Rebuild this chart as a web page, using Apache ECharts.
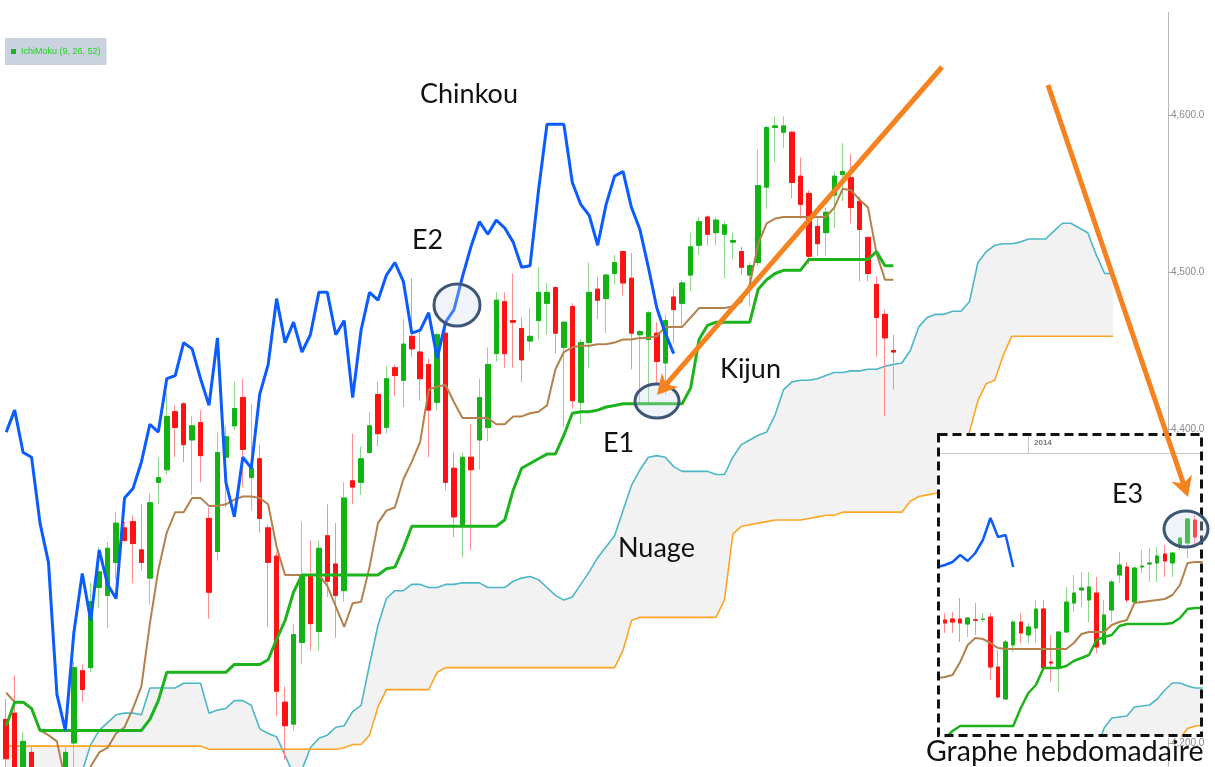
<!DOCTYPE html>
<html>
<head>
<meta charset="utf-8">
<title>Ichimoku</title>
<script src="https://cdn.jsdelivr.net/npm/echarts@6/dist/echarts.min.js"></script>
<style>
  html, body { margin: 0; padding: 0; background: #fff; }
  #chart { width: 1215px; height: 767px; }
</style>
</head>
<body>
<div id="chart"></div>
<script>
// daily chart, one slot per session (26 slots of cloud projected forward)
const slots = 138;

// [open, close, low, high]
const candles = [
  [4215, 4190, 4180, 4228], [4219, 4176, 4165, 4243], [4170, 4201, 4160, 4207], [4194, 4170, 4160, 4198],
  [4175, 4160, 4150, 4182], [4160, 4172, 4150, 4178], [4170, 4150, 4140, 4175], [4165, 4194, 4155, 4198],
  [4200, 4248, 4175, 4252], [4246, 4234, 4226, 4250], [4248, 4290, 4245, 4302], [4299, 4309, 4286, 4325],
  [4294, 4324, 4273, 4328], [4315, 4340, 4304, 4347], [4337, 4329, 4328, 4341], [4341, 4327, 4302, 4345],
  [4323, 4315, 4310, 4352], [4305, 4353, 4288, 4359], [4366, 4369, 4352, 4382], [4374, 4408, 4371, 4423],
  [4411, 4401, 4382, 4415], [4416, 4390, 4379, 4417], [4393, 4402, 4358, 4408], [4404, 4383, 4366, 4412],
  [4343, 4296, 4279, 4350], [4322, 4385, 4316, 4398], [4382, 4395, 4350, 4402], [4402, 4413, 4399, 4430],
  [4420, 4387, 4363, 4432], [4369, 4375, 4348, 4416], [4381, 4343, 4334, 4390], [4337, 4315, 4274, 4339],
  [4319, 4233, 4217, 4322], [4226, 4211, 4189, 4236], [4212, 4269, 4208, 4276], [4264, 4306, 4250, 4341],
  [4307, 4276, 4259, 4329], [4271, 4324, 4259, 4329], [4332, 4303, 4293, 4352], [4314, 4294, 4267, 4340],
  [4297, 4356, 4290, 4366], [4367, 4363, 4352, 4397], [4366, 4381, 4358, 4389], [4385, 4402, 4384, 4411],
  [4422, 4397, 4389, 4430], [4401, 4432, 4397, 4440], [4439, 4434, 4421, 4441], [4431, 4454, 4414, 4470],
  [4459, 4451, 4446, 4496], [4449, 4432, 4418, 4464], [4441, 4412, 4382, 4445], [4417, 4460, 4412, 4461],
  [4461, 4366, 4361, 4465], [4375, 4344, 4331, 4385], [4338, 4382, 4318, 4385], [4382, 4374, 4323, 4403],
  [4393, 4420, 4374, 4432], [4401, 4441, 4392, 4452], [4448, 4482, 4443, 4487], [4481, 4448, 4439, 4487],
  [4469, 4468, 4439, 4499], [4464, 4444, 4430, 4471], [4456, 4459, 4450, 4477], [4469, 4487, 4457, 4503],
  [4480, 4487, 4460, 4493], [4490, 4461, 4448, 4491], [4452, 4468, 4401, 4469], [4478, 4418, 4413, 4480],
  [4417, 4455, 4403, 4457], [4455, 4487, 4439, 4506], [4489, 4482, 4470, 4497], [4483, 4498, 4461, 4499],
  [4499, 4506, 4492, 4511], [4513, 4493, 4485, 4513], [4496, 4461, 4438, 4512], [4460, 4462, 4415, 4463],
  [4457, 4474, 4417, 4475], [4461, 4443, 4428, 4468], [4442, 4469, 4422, 4473], [4484, 4476, 4455, 4489],
  [4480, 4493, 4465, 4495], [4498, 4516, 4488, 4525], [4517, 4532, 4511, 4535], [4535, 4524, 4517, 4536],
  [4525, 4533, 4517, 4535], [4524, 4530, 4496, 4532], [4519, 4520, 4508, 4525], [4513, 4503, 4498, 4516],
  [4498, 4504, 4478, 4506], [4506, 4555, 4504, 4578], [4554, 4592, 4540, 4593], [4592, 4593, 4570, 4599],
  [4589, 4593, 4579, 4599], [4589, 4557, 4547, 4590], [4561, 4543, 4534, 4573], [4550, 4510, 4505, 4552],
  [4529, 4518, 4510, 4534], [4525, 4538, 4510, 4541], [4549, 4561, 4528, 4564], [4562, 4564, 4545, 4582],
  [4560, 4541, 4531, 4575], [4545, 4527, 4494, 4548], [4522, 4499, 4494, 4522], [4492, 4471, 4446, 4497],
  [4473, 4458, 4408, 4476], [4450, 4449, 4425, 4460]
];

const chinkou = [
  4398, 4412, 4385, 4382, 4340, 4315, 4231, 4208, 4270, 4308,
  4278, 4323, 4301, 4292, 4356, 4362, 4379, 4403, 4398, 4432,
  4434, 4455, 4451, 4432, 4415, 4458, 4366, 4344, 4382, 4375,
  4422, 4441, 4483, 4455, 4468, 4449, 4460, 4487, 4487, 4460,
  4469, 4420, 4463, 4487, 4482, 4498, 4506, 4494, 4461, 4463,
  4474, 4445, 4468, 4476, 4497, 4516, 4532, 4524, 4533, 4528,
  4519, 4503, 4504, 4552, 4594, 4594, 4594, 4557, 4543, 4536,
  4517, 4543, 4561, 4564, 4541, 4527, 4503, 4477, 4461, 4448
];

const tenkan = [
  4232, 4226, 4226, 4222, 4208, 4205, 4201, 4176, 4165, 4170,
  4185, 4194, 4197, 4206, 4210, 4222, 4236, 4276, 4310, 4334,
  4347, 4347, 4356, 4356, 4351, 4351, 4352, 4355, 4357, 4357,
  4356, 4352, 4325, 4307, 4307, 4307, 4307, 4307, 4300, 4287,
  4274, 4289, 4290, 4312, 4340, 4348, 4350, 4368, 4379, 4392,
  4425, 4427, 4428, 4417, 4407, 4407, 4407, 4407, 4403, 4403,
  4408, 4408, 4410, 4411, 4415, 4438, 4449, 4452, 4453, 4453,
  4454, 4454, 4455, 4457, 4457, 4458, 4458, 4459, 4465, 4465,
  4465, 4471, 4477, 4477, 4477, 4477, 4478, 4481, 4492, 4518,
  4531, 4534, 4535, 4535, 4535, 4535, 4535, 4535, 4541, 4553,
  4552, 4546, 4541, 4512, 4495, 4495
];

const kijun = [
  4211, 4226, 4226, 4222, 4208, 4208, 4208, 4208, 4208, 4208,
  4208, 4208, 4208, 4208, 4208, 4208, 4208, 4215, 4227, 4245,
  4245, 4245, 4245, 4245, 4245, 4245, 4245, 4250, 4250, 4250,
  4250, 4253, 4266, 4278, 4296, 4307, 4307, 4307, 4307, 4307,
  4307, 4307, 4307, 4307, 4307, 4311, 4312, 4324, 4338, 4338,
  4338, 4338, 4338, 4338, 4338, 4338, 4338, 4338, 4338, 4342,
  4361, 4375, 4378, 4381, 4384, 4384, 4396, 4410, 4411, 4411,
  4412, 4414, 4415, 4416, 4416, 4416, 4416, 4416, 4416, 4416,
  4416, 4426, 4457, 4466, 4468, 4468, 4468, 4468, 4468, 4489,
  4495, 4499, 4501, 4501, 4501, 4508, 4508, 4508, 4508, 4508,
  4508, 4508, 4508, 4513, 4504, 4504
];

const senkouA = [
  4165, 4165, 4163, 4160, 4160, 4158, 4158, 4160, 4165, 4182,
  4199, 4208, 4213, 4218, 4219, 4219, 4218, 4235, 4235, 4235,
  4235, 4238, 4238, 4238, 4219, 4221, 4222, 4227, 4227, 4224,
  4209, 4206, 4204, 4192, 4180, 4183, 4197, 4203, 4205, 4210,
  4211, 4220, 4224, 4250, 4275, 4292, 4297, 4297, 4301, 4301,
  4299, 4299, 4301, 4301, 4302, 4302, 4302, 4299, 4299, 4299,
  4303, 4305, 4306, 4304, 4299, 4294, 4291, 4293, 4301, 4309,
  4318, 4325, 4332, 4348, 4364, 4374, 4382, 4383, 4382, 4376,
  4373, 4373, 4373, 4373, 4371, 4371, 4382, 4390, 4393, 4396,
  4398, 4409, 4425, 4430, 4431, 4431, 4432, 4434, 4436, 4436,
  4437, 4437, 4438, 4438, 4440, 4441, 4442, 4450, 4465, 4471,
  4473, 4473, 4475, 4475, 4481, 4506, 4513, 4517, 4518, 4518,
  4519, 4521, 4521, 4521, 4526, 4531, 4531, 4528, 4525, 4511,
  4499, 4499
];

const senkouB = [
  4198, 4198, 4198, 4198, 4198, 4198, 4198, 4198, 4198, 4198,
  4198, 4198, 4198, 4198, 4198, 4198, 4198, 4198, 4198, 4198,
  4198, 4198, 4198, 4198, 4196, 4196, 4196, 4196, 4196, 4196,
  4196, 4196, 4196, 4196, 4196, 4196, 4196, 4196, 4196, 4196,
  4197, 4199, 4199, 4205, 4223, 4234, 4234, 4234, 4234, 4234,
  4234, 4245, 4248, 4248, 4248, 4248, 4248, 4248, 4248, 4248,
  4248, 4248, 4248, 4248, 4248, 4248, 4248, 4248, 4248, 4248,
  4248, 4248, 4248, 4259, 4278, 4280, 4280, 4280, 4280, 4280,
  4280, 4280, 4280, 4280, 4280, 4291, 4333, 4338, 4339, 4340,
  4341, 4342, 4342, 4342, 4342, 4343, 4344, 4345, 4345, 4347,
  4347, 4347, 4347, 4347, 4347, 4347, 4347, 4354, 4357, 4358,
  4359, 4362, 4369, 4382, 4398, 4418, 4429, 4431, 4447, 4459,
  4459, 4459, 4459, 4459, 4459, 4459, 4459, 4459, 4459, 4459,
  4459, 4459
];

// weekly inset (slot 0 holds only the lagging line)
const weekSlots = 36;
const weekCandles = [
  [4114, 4102, 4062, 4142], [4118, 4106, 4062, 4146], [4118, 4102, 4026, 4202], [4098, 4122, 4046, 4126],
  [4115, 4113, 4054, 4182], [4116, 4118, 4106, 4142], [4126, 3926, 3874, 4142], [3926, 3806, 3800, 3994],
  [3798, 4026, 3794, 4034], [4014, 4106, 3986, 4114], [4106, 4062, 4022, 4142], [4054, 4086, 4022, 4102],
  [4082, 4158, 4022, 4194], [4158, 3922, 3914, 4194], [3946, 3942, 3866, 4054], [3926, 4066, 3826, 4070],
  [4066, 4186, 4062, 4246], [4182, 4222, 4146, 4294], [4234, 4242, 4166, 4306], [4194, 4246, 4106, 4306],
  [4222, 4006, 3982, 4286], [4018, 4134, 4010, 4194], [4154, 4266, 4106, 4274], [4294, 4334, 4262, 4386],
  [4326, 4194, 4182, 4346], [4186, 4322, 4182, 4326], [4326, 4330, 4302, 4394], [4338, 4342, 4266, 4402],
  [4342, 4370, 4266, 4406], [4378, 4350, 4286, 4414], [4342, 4382, 4286, 4386], [4406, 4442, 4394, 4442],
  [4422, 4518, 4362, 4522], [4514, 4446, 4414, 4534]
];
const weekChinkou = [4326, 4334, 4346, 4374, 4350, 4382, 4434, 4522, 4446, 4454, 4326];
const weekTenkan = [
  3882, 3886, 3894, 3946, 4014, 4042, 4038, 4022, 4002, 3998,
  3998, 3998, 3998, 3998, 3998, 3998, 3998, 3998, 4022, 4058,
  4066, 4066, 4066, 4094, 4106, 4114, 4182, 4186, 4190, 4194,
  4198, 4214, 4254, 4342, 4346, 4346
];
const weekKijun = [
  3620, 3640, 3670, 3690, 3690, 3690, 3690, 3690, 3690, 3690,
  3690, 3762, 3822, 3854, 3922, 3922, 3922, 3930, 3950, 3962,
  3974, 4034, 4046, 4054, 4090, 4098, 4098, 4098, 4098, 4098,
  4098, 4102, 4122, 4158, 4162, 4162
];
const weekSenkouA = [
  3600, 3600, 3600, 3600, 3600, 3600, 3600, 3600, 3600, 3600,
  3600, 3600, 3600, 3600, 3600, 3600, 3600, 3600, 3600, 3600,
  3600, 3600, 3682, 3722, 3726, 3730, 3766, 3770, 3774, 3798,
  3834, 3862, 3862, 3850, 3842, 3842
];
const weekSenkouB = [
  3600, 3600, 3600, 3600, 3600, 3600, 3600, 3600, 3600, 3600,
  3600, 3600, 3600, 3600, 3600, 3600, 3600, 3600, 3600, 3600,
  3600, 3600, 3600, 3600, 3600, 3600, 3600, 3600, 3600, 3600,
  3600, 3600, 3640, 3680, 3690, 3692
];

const UP = '#12b312', DOWN = '#ff1212';
const UP_WICK = '#8ed88e', DOWN_WICK = '#ff8f8f';
const ORANGE = '#f5821f';
const FONT = 'Lato';

const chart = echarts.init(document.getElementById('chart'));

// cloud = invisible base + stacked band between the two spans
function cloudSeries(a, b, stack, axis, z) {
  const base = a.map((v, i) => Math.min(v, b[i]));
  const band = a.map((v, i) => Math.abs(v - b[i]));
  const common = { type: 'line', stack: stack, symbol: 'none', silent: true,
    xAxisIndex: axis, yAxisIndex: axis, z: z, lineStyle: { width: 0, opacity: 0 } };
  return [
    Object.assign({ name: stack + '-base', data: base }, common),
    Object.assign({ name: stack + '-band', data: band, areaStyle: { color: '#f2f2f2', opacity: 1 } }, common)
  ];
}

function candleSeries(data, axis, z, width) {
  const bodies = data.map(d => (d === '-' ? '-' : [d[0], d[1], Math.min(d[0], d[1]), Math.max(d[0], d[1])]));
  return [
    { type: 'candlestick', xAxisIndex: axis, yAxisIndex: axis, z: z, barWidth: width, data: data, silent: true,
      itemStyle: { color: UP_WICK, color0: DOWN_WICK, borderColor: UP_WICK, borderColor0: DOWN_WICK, borderWidth: 1 } },
    { type: 'candlestick', xAxisIndex: axis, yAxisIndex: axis, z: z + 1, barWidth: width, data: bodies, silent: true,
      itemStyle: { color: UP, color0: DOWN, borderColor: UP, borderColor0: DOWN, borderWidth: 1 } }
  ];
}

function line(name, data, color, width, axis, z) {
  return { name: name, type: 'line', data: data, symbol: 'none', xAxisIndex: axis, yAxisIndex: axis, z: z,
    silent: true, lineStyle: { color: color, width: width }, itemStyle: { color: color } };
}

function label(text, x, y, size) {
  return { type: 'text', x: x, y: y, z: 60,
    style: { text: text, fill: '#111', font: size + 'px ' + FONT, textVerticalAlign: 'middle' } };
}

function ring(cx, cy, rx, ry) {
  return { type: 'ellipse', z: 55, shape: { cx: cx, cy: cy, rx: rx, ry: ry },
    style: { fill: 'rgba(205,218,240,0.3)', stroke: '#3e5676', lineWidth: 3 } };
}

function arrow(x1, y1, x2, y2) {
  const len = Math.hypot(x2 - x1, y2 - y1);
  const ux = (x2 - x1) / len, uy = (y2 - y1) / len;
  const bx = x2 - ux * 20, by = y2 - uy * 20;
  return [
    { type: 'line', z: 58, shape: { x1: x1, y1: y1, x2: bx + ux * 6, y2: by + uy * 6 },
      style: { stroke: ORANGE, lineWidth: 5 } },
    { type: 'polygon', z: 58,
      shape: { points: [[x2, y2], [bx - uy * 11, by + ux * 11], [bx + ux * 6, by + uy * 6], [bx + uy * 11, by - ux * 11]] },
      style: { fill: ORANGE } }
  ];
}

const fmt = v => v.toLocaleString('en-US', { minimumFractionDigits: 1, maximumFractionDigits: 1 });

const option = {
  animation: false,
  backgroundColor: '#fff',
  legend: {
    left: 5, top: 38, padding: [9, 6], backgroundColor: '#c9d2de', selectedMode: false,
    itemWidth: 5, itemHeight: 5, icon: 'rect',
    textStyle: { color: '#1fd21f', fontSize: 9, fontFamily: 'Liberation Sans' },
    data: ['IchiMoku (9, 26, 52)']
  },
  grid: [
    { left: 2, top: 0, width: 1166, height: 767 },
    { left: 933.6, top: 433, width: 272.9, height: 303 }
  ],
  xAxis: [
    { type: 'category', gridIndex: 0, show: false, data: Array.from({ length: slots }, (_, i) => i) },
    { type: 'category', gridIndex: 1, show: false, data: Array.from({ length: weekSlots }, (_, i) => i) }
  ],
  yAxis: [
    { type: 'value', gridIndex: 0, position: 'right', min: 4184.7, max: 4673.2, splitNumber: 5,
      splitLine: { show: false }, axisLine: { show: false },
      axisTick: { show: true, length: 3, lineStyle: { color: '#aaa' } },
      axisLabel: { formatter: fmt, color: '#8a8a8a', fontSize: 10, margin: 3, fontFamily: 'Liberation Sans',
        showMinLabel: false, showMaxLabel: false } },
    { type: 'value', gridIndex: 1, show: false, min: 3650, max: 4862 }
  ],
  series: [
    ...cloudSeries(senkouA, senkouB, 'cloud', 0, 1),
    line('Senkou A', senkouA, '#4cb6c9', 1.6, 0, 2),
    line('Senkou B', senkouB, '#ffa424', 1.6, 0, 2),
    ...candleSeries(candles, 0, 3, 5),
    line('Tenkan', tenkan, '#b3824c', 2, 0, 5),
    line('IchiMoku (9, 26, 52)', kijun, '#1cb31c', 3, 0, 5),
    line('Chinkou', chinkou, '#0b5cff', 3, 0, 6),

    ...cloudSeries(weekSenkouA, weekSenkouB, 'wcloud', 1, 20),
    line('wSenkou A', weekSenkouA, '#4cb6c9', 1.6, 1, 21),
    line('wSenkou B', weekSenkouB, '#ffa424', 1.6, 1, 21),
    ...candleSeries(['-'].concat(weekCandles), 1, 22, 4),
    line('wTenkan', weekTenkan, '#b3824c', 2, 1, 24),
    line('wKijun', weekKijun, '#1cb31c', 2.5, 1, 24),
    line('wChinkou', weekChinkou, '#0b5cff', 2.5, 1, 25)
  ],
  graphic: [
    { type: 'line', z: 0, shape: { x1: 1168.5, y1: 12, x2: 1168.5, y2: 767 }, style: { stroke: '#b8b8b8', lineWidth: 1 } },
    // weekly inset panel
    { type: 'rect', z: 10, shape: { x: 937, y: 433, width: 278, height: 305 }, style: { fill: '#fff' } },
    { type: 'line', z: 11, shape: { x1: 937, y1: 453.5, x2: 1202, y2: 453.5 }, style: { stroke: '#c8c8c8', lineWidth: 1 } },
    { type: 'line', z: 11, shape: { x1: 1028.5, y1: 433, x2: 1028.5, y2: 453 }, style: { stroke: '#c8c8c8', lineWidth: 1 } },
    { type: 'text', z: 11, x: 1034, y: 443, style: { text: '2014', fill: '#777', font: 'bold 8px Liberation Sans', textVerticalAlign: 'middle' } },
    { type: 'rect', z: 40, shape: { x: 938.5, y: 434.5, width: 263, height: 301 },
      style: { fill: 'none', stroke: '#111', lineWidth: 3, lineDash: [9, 5] } },
    // annotations
    ring(457, 305, 23, 21),
    ring(657, 401, 22, 17),
    ring(1186, 529, 22, 18),
    ...arrow(942, 67, 657, 395),
    ...arrow(1048, 85, 1188, 497),
    label('Chinkou', 420, 94, 27),
    label('E2', 412, 240, 27),
    label('E1', 603, 443, 27),
    label('Kijun', 720, 369, 27),
    label('Nuage', 618, 548, 27),
    label('E3', 1112, 494, 27),
    label('Graphe hebdomadaire', 926, 752, 28.5)
  ]
};

chart.setOption(option);
</script>
</body>
</html>
